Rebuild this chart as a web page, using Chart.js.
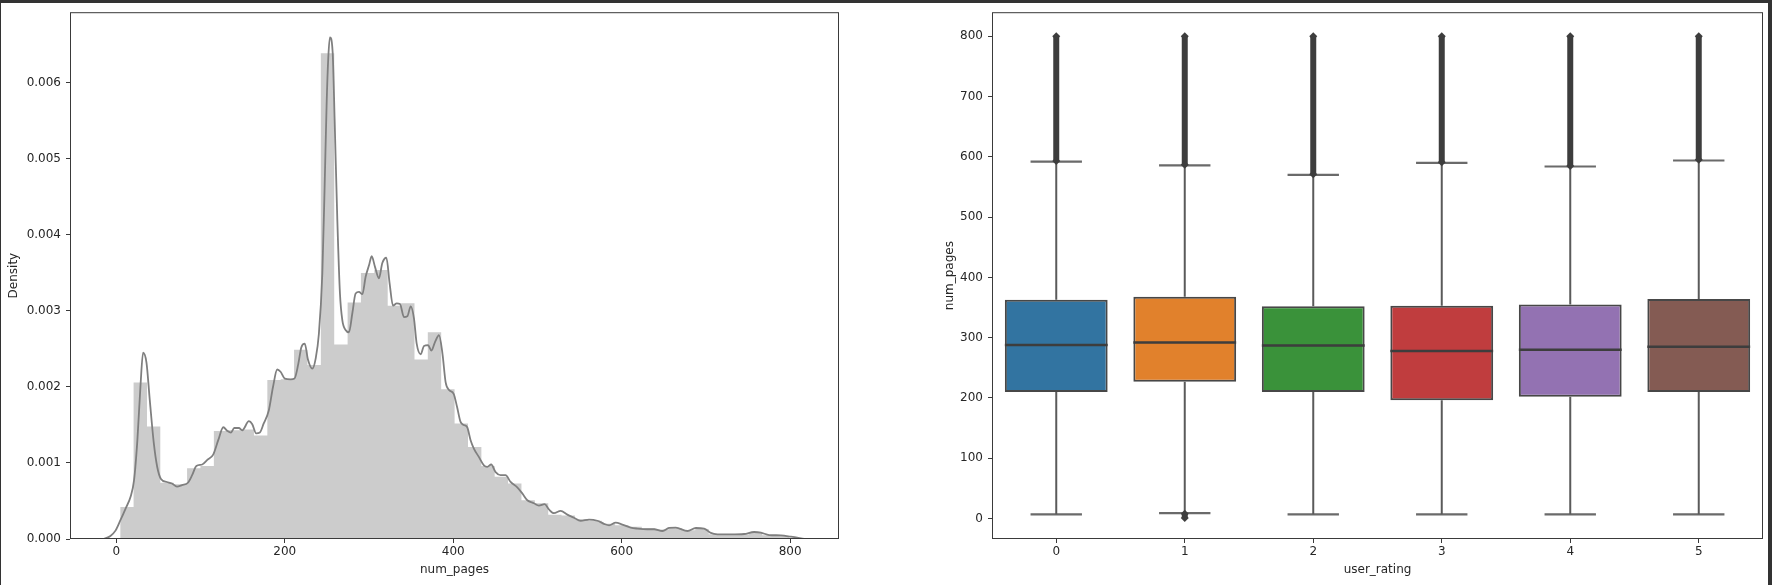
<!DOCTYPE html>
<html><head><meta charset="utf-8">
<script src="https://cdn.jsdelivr.net/npm/chart.js@4.4.1/dist/chart.umd.min.js"></script>
<style>
html,body{margin:0;padding:0;}
body{width:1772px;height:585px;background:#333;position:relative;overflow:hidden;}
#bg{position:absolute;left:1px;top:3px;width:1767px;height:582px;background:#fff;}
#c1{position:absolute;left:0;top:0;width:886px;height:585px;}
#c2{position:absolute;left:886px;top:0;width:886px;height:585px;}
</style></head><body>
<div id="bg"></div>
<canvas id="c1" width="886" height="585"></canvas>
<canvas id="c2" width="886" height="585"></canvas>
<script>
// ===== Left panel: histogram + KDE of num_pages =====
const binEdges = [4.6, 20.5, 36.4, 52.2, 68.1, 84.0, 99.9, 115.8, 131.6, 147.5, 163.4, 179.3, 195.2, 211.0, 226.9, 242.8, 258.7, 274.6, 290.4, 306.3, 322.2, 338.1, 354.0, 369.8, 385.7, 401.6, 417.5, 433.4, 449.2, 465.1, 481.0, 496.9, 512.8, 528.6, 544.5, 560.4, 576.3, 592.2, 608.0, 623.9, 639.8, 655.7, 671.6, 687.4, 703.3, 719.2, 735.1, 751.0, 766.8, 782.7, 798.6];
const binDensity = [0.00042, 0.00206, 0.00148, 0.00074, 0.00072, 0.00093, 0.00096, 0.00142, 0.00143, 0.00144, 0.00136, 0.00209, 0.0021, 0.00249, 0.00229, 0.00639, 0.00256, 0.00311, 0.0035, 0.00354, 0.00307, 0.0031, 0.00236, 0.00272, 0.00197, 0.00152, 0.00121, 0.00096, 0.00082, 0.00073, 0.00051, 0.00047, 0.00032, 0.00031, 0.000255, 0.00024, 0.0002, 0.00018, 0.00016, 0.00014, 0.000124, 0.00014, 0.000114, 0.00013, 0.000062, 0.00006, 0.00006, 0.000084, 0.00005, 0.00004];
const kdeX = [-15, -7, -1, 5, 11, 17, 21, 25, 28.6, 31.8, 35.8, 39.7, 44.5, 48.5, 53, 60, 66, 72, 78, 85, 90, 95, 102, 108, 115, 121, 127, 132, 136, 140, 145.5, 149.5, 157.4, 161.4, 166, 170.4, 175, 181, 186, 191, 195, 200, 207, 211.5, 216, 219.6, 223.7, 227.5, 232.7, 236.6, 240.5, 244.6, 247.3, 249.7, 251.7, 253.6, 256.8, 259.2, 262.4, 265.5, 268.3, 272.2, 276.2, 280.2, 284.1, 288.1, 292.1, 296, 300, 303.2, 307.1, 311.8, 315.8, 320.6, 324.5, 328.5, 332.9, 336.8, 341.5, 345.5, 349.5, 353.4, 356.6, 361.4, 365.3, 370.1, 374.1, 378, 383.1, 387.2, 391, 395, 400.5, 404.5, 408.7, 412.6, 416.6, 420.6, 424.5, 430.4, 436.4, 440.4, 445.1, 450.3, 456.2, 462.1, 468.1, 476, 482, 487.9, 495.8, 501.7, 508.5, 513.6, 519.6, 527.5, 535.5, 543.3, 551.3, 561.2, 571.1, 579, 585, 592.9, 600.8, 610.7, 618.7, 630.5, 638.4, 648.4, 656.2, 664.2, 678.1, 688, 697.9, 705.8, 713.8, 729.5, 745.4, 757.2, 765.2, 775.1, 789, 800.9, 816.6];
const kdeY = [0, 0.00004, 0.00011, 0.00025, 0.0004, 0.00056, 0.00077, 0.0013, 0.002, 0.00245, 0.00232, 0.00183, 0.00126, 0.00095, 0.00079, 0.00075, 0.00073, 0.00069, 0.00071, 0.00074, 0.00084, 0.00096, 0.00098, 0.00104, 0.00111, 0.0013, 0.00147, 0.00142, 0.0014, 0.00146, 0.00146, 0.00143, 0.00155, 0.00151, 0.00139, 0.0014, 0.00152, 0.00169, 0.002, 0.00223, 0.0022, 0.00211, 0.0021, 0.00211, 0.0023, 0.00252, 0.00257, 0.00236, 0.00224, 0.00237, 0.0027, 0.0035, 0.00463, 0.00573, 0.00634, 0.0066, 0.00641, 0.00551, 0.00419, 0.00323, 0.00288, 0.00275, 0.00272, 0.00297, 0.00323, 0.00325, 0.00322, 0.00345, 0.0036, 0.00372, 0.00358, 0.00343, 0.00363, 0.0037, 0.00336, 0.00307, 0.0031, 0.00309, 0.00292, 0.00293, 0.00306, 0.0029, 0.00257, 0.00243, 0.00254, 0.00255, 0.00248, 0.00258, 0.00268, 0.00244, 0.00206, 0.00196, 0.00191, 0.00174, 0.00154, 0.0015, 0.00147, 0.0013, 0.00119, 0.00108, 0.00097, 0.00095, 0.00098, 0.00088, 0.00084, 0.00084, 0.00075, 0.00068, 0.0006, 0.00051, 0.00047, 0.00044, 0.00046, 0.00039, 0.00034, 0.00037, 0.00032, 0.00028, 0.00024, 0.000255, 0.00024, 0.0002, 0.00018, 0.000215, 0.00019, 0.00015, 0.000137, 0.000128, 0.000128, 0.000105, 0.000145, 0.00015, 0.000105, 0.000145, 0.000137, 0.00008, 0.000062, 0.00006, 0.000066, 0.000092, 0.000084, 0.000052, 0.000048, 0.00003, 0];
const xTicksLeft = [0, 200, 400, 600, 800];
const yTicksLeft = [0, 0.001, 0.002, 0.003, 0.004, 0.005, 0.006];

// ===== Right panel: box plot of num_pages by user_rating =====
const ratings = ['0', '1', '2', '3', '4', '5'];
const q1 = [210, 227, 210, 196, 202, 210];
const median = [288, 292, 287, 278, 280, 285];
const q3 = [363, 368, 352, 353, 355, 364];
const whiskerLow = [7, 9, 7, 7, 7, 7];
const whiskerHigh = [592, 586, 570, 590, 584, 594];
const outlierHighStart = [593, 587, 571, 591, 585, 595];
const outlierHighEnd = [800, 800, 800, 800, 800, 800];
const outlierLowStart = [null, 1, null, null, null, null];
const outlierLowEnd = [null, 8, null, null, null, null];
const boxColors = ['#3274a1', '#e1812c', '#3a923a', '#c03d3e', '#9372b2', '#845b53'];
const yTicksRight = [0, 100, 200, 300, 400, 500, 600, 700, 800];

// ===== shared styling =====
const FONT = "'DejaVu Sans', sans-serif";
const TXT = '#262626';
const tickFont = {family: FONT, size: 12};
const frame = {
  id: 'frame',
  afterDraw(chart) {
    const {ctx, chartArea: a} = chart;
    ctx.save();
    ctx.strokeStyle = '#3a3a3a';
    ctx.lineWidth = 1;
    ctx.strokeRect(a.left + 0.5, a.top + 0.5, a.right - a.left - 1, a.bottom - a.top - 1);
    ctx.restore();
  }
};
function axisGrid() {
  return {display: true, drawOnChartArea: false, drawTicks: true, tickLength: 4, color: '#3a3a3a', lineWidth: 1, offset: false};
}

// ---- left chart ----
const histPts = binEdges.map((e, i) => ({x: e, y: binDensity[Math.min(i, binDensity.length - 1)]}));
const kdePts = kdeX.map((x, i) => ({x: x, y: kdeY[i]}));

new Chart(document.getElementById('c1'), {
  type: 'line',
  data: {
    datasets: [
      {data: kdePts, borderColor: '#7f7f7f', borderWidth: 1.8, pointRadius: 0, fill: false,
       cubicInterpolationMode: 'monotone', order: 0},
      {data: histPts, stepped: 'before', borderWidth: 0, borderColor: 'rgba(0,0,0,0)',
       backgroundColor: '#cccccc', fill: 'origin', pointRadius: 0, order: 1}
    ]
  },
  options: {
    responsive: false, animation: false, devicePixelRatio: 1,
    layout: {padding: {left: 0, right: 47, top: 12, bottom: 0}},
    plugins: {legend: {display: false}, tooltip: {enabled: false}},
    scales: {
      x: {
        type: 'linear', min: -55, max: 858, offset: false,
        afterBuildTicks: s => { s.ticks = xTicksLeft.map(v => ({value: v})); },
        afterFit: s => { s.height = 46; },
        grid: axisGrid(), border: {display: false},
        ticks: {font: tickFont, color: TXT, padding: 2, maxRotation: 0, callback: v => String(v)},
        title: {display: true, text: 'num_pages', font: {family: FONT, size: 12}, color: TXT, padding: {top: 0, bottom: 8}}
      },
      y: {
        type: 'linear', min: 0, max: 0.00693,
        afterBuildTicks: s => { s.ticks = yTicksLeft.map(v => ({value: v})); },
        afterFit: s => { s.width = 70; },
        grid: axisGrid(), border: {display: false},
        ticks: {font: tickFont, color: TXT, padding: 5, callback: v => v.toFixed(3)},
        title: {display: true, text: 'Density', font: {family: FONT, size: 12}, color: TXT, padding: {top: 7, bottom: 0}}
      }
    }
  },
  plugins: [frame]
});

// ---- right chart ----
const gap = i => ({x: i, y: null});
const medianPts = [], whiskerPts = [], capPts = [], outlierPts = [];
ratings.forEach((_, i) => {
  medianPts.push({x: i - 0.4, y: median[i]}, {x: i + 0.4, y: median[i]}, gap(i));
  whiskerPts.push({x: i, y: q3[i]}, {x: i, y: whiskerHigh[i]}, gap(i), {x: i, y: q1[i]}, {x: i, y: whiskerLow[i]}, gap(i));
  capPts.push({x: i - 0.2, y: whiskerHigh[i]}, {x: i + 0.2, y: whiskerHigh[i]}, gap(i),
              {x: i - 0.2, y: whiskerLow[i]}, {x: i + 0.2, y: whiskerLow[i]}, gap(i));
  outlierPts.push({x: i, y: outlierHighStart[i]}, {x: i, y: outlierHighEnd[i]}, gap(i));
  if (outlierLowStart[i] !== null) {
    outlierPts.push({x: i, y: outlierLowStart[i]}, {x: i, y: outlierLowEnd[i]}, gap(i));
  }
});

new Chart(document.getElementById('c2'), {
  type: 'bar',
  data: {
    datasets: [
      {type: 'line', data: medianPts, borderColor: '#3d3d3d', borderWidth: 2.5, pointRadius: 0, spanGaps: false, order: 0},
      {type: 'line', data: outlierPts, borderColor: '#3d3d3d', borderWidth: 6, borderCapStyle: 'butt',
       pointStyle: 'rectRot', pointRadius: 4, pointBackgroundColor: '#3d3d3d', pointBorderWidth: 0, spanGaps: false, order: 1},
      {type: 'line', data: whiskerPts, borderColor: '#5a5a5a', borderWidth: 2, pointRadius: 0, spanGaps: false, order: 2},
      {type: 'line', data: capPts, borderColor: '#6a6a6a', borderWidth: 2.2, pointRadius: 0, spanGaps: false, order: 2},
      {type: 'bar', data: ratings.map((_, i) => ({x: i, y: [q1[i], q3[i]]})),
       backgroundColor: boxColors, borderColor: '#474747', borderWidth: 2, borderSkipped: false,
       barPercentage: 0.8, categoryPercentage: 1.0, order: 3}
    ]
  },
  options: {
    responsive: false, animation: false, devicePixelRatio: 1,
    layout: {padding: {left: 0, right: 9, top: 12, bottom: 0}},
    plugins: {legend: {display: false}, tooltip: {enabled: false}},
    scales: {
      x: {
        type: 'linear', min: -0.5, max: 5.5, offset: false,
        afterBuildTicks: s => { s.ticks = ratings.map((_, i) => ({value: i})); },
        afterFit: s => { s.height = 46; },
        grid: axisGrid(), border: {display: false},
        ticks: {font: tickFont, color: TXT, padding: 2, maxRotation: 0, callback: v => ratings[v]},
        title: {display: true, text: 'user_rating', font: {family: FONT, size: 12}, color: TXT, padding: {top: 0, bottom: 8}}
      },
      y: {
        type: 'linear', min: -34, max: 840, beginAtZero: false,
        afterBuildTicks: s => { s.ticks = yTicksRight.map(v => ({value: v})); },
        afterFit: s => { s.width = 106; },
        grid: axisGrid(), border: {display: false},
        ticks: {font: tickFont, color: TXT, padding: 5, callback: v => String(v)},
        title: {display: true, text: 'num_pages', font: {family: FONT, size: 12}, color: TXT, padding: {top: 57, bottom: 0}}
      }
    }
  },
  plugins: [frame]
});
</script>
</body></html>
